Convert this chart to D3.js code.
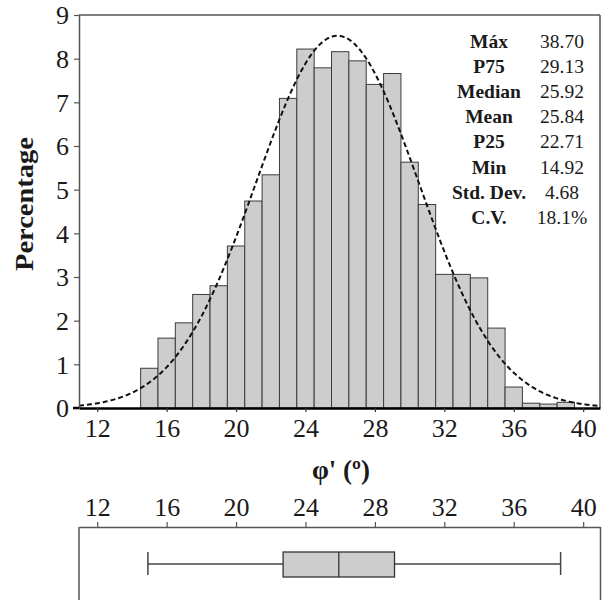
<!DOCTYPE html>
<html>
<head>
<meta charset="utf-8">
<script src="https://cdn.jsdelivr.net/npm/d3@7"></script>
<style>
  html, body { margin: 0; padding: 0; background: #fff; }
  svg { display: block; }
  svg text { font-family: "Liberation Serif", "Times New Roman", serif !important; fill: #1a1a1a; }
</style>
</head>
<body>
<svg id="chart" width="603" height="600"></svg>
<script>
// ---- data ----
const binCenters = [15,16,17,18,19,20,21,22,23,24,25,26,27,28,29,30,31,32,33,34,35,36,37,38,39];
const percentages = [0.91,1.60,1.95,2.60,2.80,3.71,4.74,5.34,7.09,8.22,7.79,8.16,7.95,7.41,7.66,5.63,4.66,3.06,3.06,2.98,1.83,0.48,0.11,0.09,0.13];
const xTicks = [12,16,20,24,28,32,36,40];
const yTicks = [0,1,2,3,4,5,6,7,8,9];
const statLabels = ["Máx","P75","Median","Mean","P25","Min","Std. Dev.","C.V."];
const statValues = ["38.70","29.13","25.92","25.84","22.71","14.92","4.68","18.1%"];
const boxMin = 14.92, boxP25 = 22.71, boxMedian = 25.92, boxP75 = 29.13, boxMax = 38.70;
const meanVal = 25.84, sdVal = 4.68;
const binWidth = 1;

const SERIF = '"Liberation Serif", "Times New Roman", serif';

// ---- layout ----
const svg = d3.select("#chart");
const L = 79, R = 600, T = 15, B = 408;
const x = d3.scaleLinear().domain([10.95, 40.97]).range([L, R]);
const y = d3.scaleLinear().domain([0, 9]).range([B, T]);

// bars
svg.append("g").selectAll("rect").data(binCenters).join("rect")
  .attr("x", (d) => x(d - binWidth / 2))
  .attr("y", (d, i) => y(percentages[i]))
  .attr("width", (d) => x(d + binWidth / 2) - x(d - binWidth / 2))
  .attr("height", (d, i) => y(0) - y(percentages[i]))
  .attr("fill", "#cdcdcd")
  .attr("stroke", "#3c3c3c")
  .attr("stroke-width", 1);

// normal curve
const curvePts = d3.range(x.domain()[0], x.domain()[1] + 0.001, 0.05).map(v => [v,
  100 * binWidth / (sdVal * Math.sqrt(2 * Math.PI)) * Math.exp(-0.5 * Math.pow((v - meanVal) / sdVal, 2))]);
svg.append("path")
  .datum(curvePts)
  .attr("d", d3.line().x(d => x(d[0])).y(d => y(d[1])))
  .attr("fill", "none")
  .attr("stroke", "#111")
  .attr("stroke-width", 2)
  .attr("stroke-dasharray", "5,3");

// frame top/right
svg.append("line").attr("x1", L).attr("x2", R).attr("y1", T).attr("y2", T)
  .attr("stroke", "#555").attr("stroke-width", 1.5);
svg.append("line").attr("x1", R).attr("x2", R).attr("y1", T).attr("y2", B)
  .attr("stroke", "#555").attr("stroke-width", 1.5);

function styleTicks(sel) {
  sel.attr("font-family", SERIF);
  sel.selectAll("text")
    .style("font-family", SERIF)
    .style("font-size", "26px")
    .attr("fill", "#1a1a1a");
}

// y axis
const yAxis = svg.append("g").attr("transform", `translate(${L},0)`)
  .call(d3.axisLeft(y).tickValues(yTicks).tickFormat(d3.format("d")).tickSize(5).tickSizeOuter(0).tickPadding(5));
yAxis.select(".domain").attr("stroke", "#555").attr("stroke-width", 1.5);
yAxis.selectAll(".tick line").attr("stroke", "#555").attr("stroke-width", 1.2);
styleTicks(yAxis);
yAxis.selectAll("text").attr("dy", "0.34em");

// x axis
const xAxis = svg.append("g").attr("transform", `translate(0,${B})`)
  .call(d3.axisBottom(x).tickValues(xTicks).tickSize(4).tickSizeOuter(0).tickPadding(7));
xAxis.select(".domain").attr("stroke", "#000").attr("stroke-width", 2.5);
xAxis.selectAll(".tick line").attr("stroke", "#333").attr("stroke-width", 1.2);
styleTicks(xAxis);
svg.append("line").attr("x1", L - 6).attr("x2", L).attr("y1", B).attr("y2", B)
  .attr("stroke", "#000").attr("stroke-width", 2.5);

// axis titles
svg.append("text")
  .attr("transform", `translate(33,204) rotate(-90)`)
  .attr("text-anchor", "middle")
  .attr("textLength", 134).attr("lengthAdjust", "spacingAndGlyphs")
  .style("font-family", SERIF)
  .style("font-size", "25px").style("font-weight", "bold")
  .text("Percentage");
svg.append("text")
  .attr("x", 341).attr("y", 479)
  .attr("text-anchor", "middle")
  .style("font-family", SERIF)
  .style("font-size", "27px").style("font-weight", "bold")
  .text("φ' (º)");

// stats table
const rowY = (i) => 47.5 + i * 25.2;
svg.append("g").selectAll("text").data(statLabels).join("text")
  .attr("x", 489).attr("y", (d, i) => rowY(i))
  .attr("text-anchor", "middle")
  .style("font-family", SERIF)
  .style("font-size", "19.5px").style("font-weight", "bold")
  .text(d => d);
svg.append("g").selectAll("text").data(statValues).join("text")
  .attr("x", 562).attr("y", (d, i) => rowY(i))
  .attr("text-anchor", "middle")
  .style("font-family", SERIF)
  .style("font-size", "19.5px")
  .text(d => d);

// ---- box plot ----
const BT = 527;
const bAxis = svg.append("g").attr("transform", `translate(0,${BT})`)
  .call(d3.axisTop(x).tickValues(xTicks).tickSize(5).tickSizeOuter(0).tickPadding(6));
bAxis.select(".domain").attr("stroke", "#555").attr("stroke-width", 1.5);
bAxis.selectAll(".tick line").attr("stroke", "#555").attr("stroke-width", 1.2);
styleTicks(bAxis);
svg.append("line").attr("x1", L).attr("x2", L).attr("y1", BT).attr("y2", 600)
  .attr("stroke", "#555").attr("stroke-width", 1.5);
svg.append("line").attr("x1", R + 0.5).attr("x2", R + 0.5).attr("y1", BT).attr("y2", 600)
  .attr("stroke", "#555").attr("stroke-width", 1.5);

const wy = 564, boxTop = 552, boxBot = 577, capTop = 552, capBot = 575;
const g = svg.append("g");
g.append("line").attr("x1", x(boxMin)).attr("x2", x(boxP25)).attr("y1", wy).attr("y2", wy)
  .attr("stroke", "#444").attr("stroke-width", 1.5);
g.append("line").attr("x1", x(boxP75)).attr("x2", x(boxMax)).attr("y1", wy).attr("y2", wy)
  .attr("stroke", "#444").attr("stroke-width", 1.5);
g.append("line").attr("x1", x(boxMin)).attr("x2", x(boxMin)).attr("y1", capTop).attr("y2", capBot)
  .attr("stroke", "#444").attr("stroke-width", 1.5);
g.append("line").attr("x1", x(boxMax)).attr("x2", x(boxMax)).attr("y1", capTop).attr("y2", capBot)
  .attr("stroke", "#444").attr("stroke-width", 1.5);
g.append("rect").attr("x", x(boxP25)).attr("y", boxTop)
  .attr("width", x(boxP75) - x(boxP25)).attr("height", boxBot - boxTop)
  .attr("fill", "#cdcdcd").attr("stroke", "#333").attr("stroke-width", 1.3);
g.append("line").attr("x1", x(boxMedian)).attr("x2", x(boxMedian)).attr("y1", boxTop).attr("y2", boxBot)
  .attr("stroke", "#333").attr("stroke-width", 1.3);
</script>
</body>
</html>
